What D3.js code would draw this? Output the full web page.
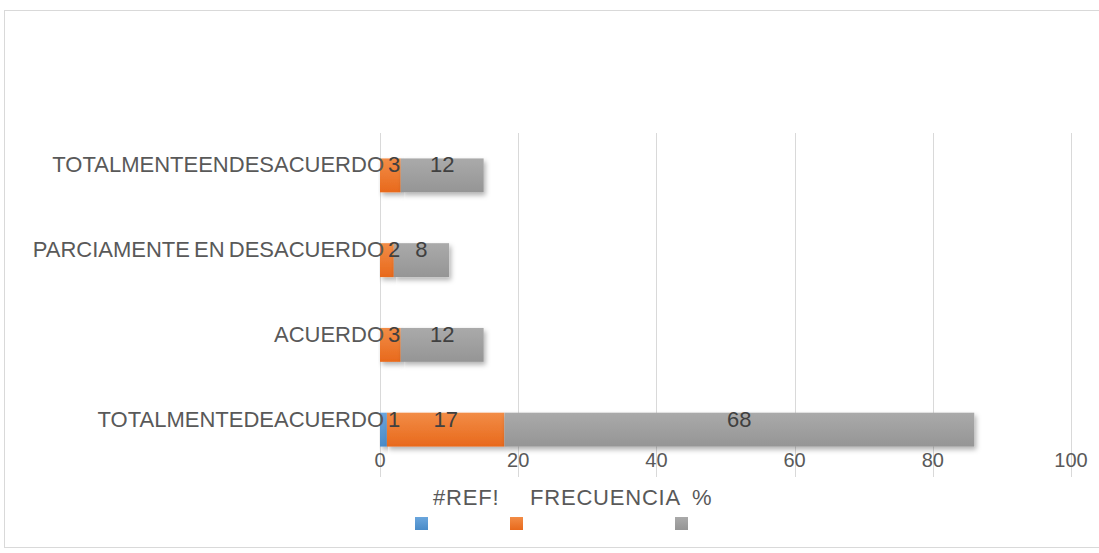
<!DOCTYPE html>
<head>
    <meta charset="utf-8">
    <title>Frecuencia</title>
    <script src="https://d3js.org/d3.v7.min.js"></script>
    <style>
        body { margin: 0; background: #fff; }
        text { font-family: "Liberation Sans", Arial, sans-serif; }
    </style>
</head>
<body>
    <script>
        // bottom to top, as in the picture
        const categories = ["TOTALMENTEDEACUERDO", "ACUERDO", "PARCIAMENTE EN DESACUERDO", "TOTALMENTEENDESACUERDO"]
        const refValues = [1, 0, 0, 0]
        const frecuencia = [17, 3, 2, 3]
        const porcentaje = [68, 12, 8, 12]
        const seriesNames = ["#REF!", "FRECUENCIA", "%"]
        const xTicks = [0, 20, 40, 60, 80, 100]

        const width = 1099
        const height = 553

        const colors = [
            { top: "#6aa6dd", bottom: "#4a8bc8" },
            { top: "#f28c46", bottom: "#e8691c" },
            { top: "#aaaaaa", bottom: "#959595" }
        ]

        const svg = d3.select("body").append("svg")
            .attr("width", width)
            .attr("height", height)

        const defs = svg.append("defs")
        colors.forEach((c, i) => {
            const g = defs.append("linearGradient")
                .attr("id", "grad" + i)
                .attr("x1", 0).attr("y1", 0).attr("x2", 0).attr("y2", 1)
            g.append("stop").attr("offset", "0%").attr("stop-color", c.top)
            g.append("stop").attr("offset", "100%").attr("stop-color", c.bottom)
        })
        const shadow = defs.append("filter").attr("id", "shadow")
            .attr("x", "-5%").attr("y", "-20%").attr("width", "120%").attr("height", "160%")
        shadow.append("feDropShadow")
            .attr("dx", 2).attr("dy", 3).attr("stdDeviation", 2.5)
            .attr("flood-color", "#000").attr("flood-opacity", 0.3)

        // chart frame
        svg.append("rect")
            .attr("x", 4.5).attr("y", 10.5)
            .attr("width", width).attr("height", 537)
            .attr("fill", "#fff")
            .attr("stroke", "#d9d9d9")

        const x = d3.scaleLinear().domain([0, 100]).range([380, 1071])
        const y = d3.scaleBand().domain(categories).range([472, 133]).paddingInner(0.6).paddingOuter(0.3)

        // gridlines
        svg.append("g")
            .selectAll("line")
            .data(xTicks)
            .join("line")
                .attr("x1", (d) => Math.round(x(d)) + 0.5)
                .attr("x2", (d) => Math.round(x(d)) + 0.5)
                .attr("y1", 133)
                .attr("y2", 477)
                .attr("stroke", "#d9d9d9")

        const rows = categories.map((c, i) => ({ cat: c, vals: [refValues[i], frecuencia[i], porcentaje[i]] }))
        const stack = d3.stack().keys([0, 1, 2]).value((d, k) => d.vals[k])(rows)

        const layers = svg.append("g").selectAll("g")
            .data(stack)
            .join("g")
                .attr("fill", (d, i) => `url(#grad${i})`)

        layers.selectAll("rect")
            .data((d) => d)
            .join("rect")
                .attr("x", (d) => x(d[0]))
                .attr("y", (d) => y(d.data.cat))
                .attr("width", (d) => x(d[1]) - x(d[0]))
                .attr("height", y.bandwidth())
                .attr("filter", (d) => d[1] - d[0] > 0 ? "url(#shadow)" : null)

        // axis tick labels
        svg.append("g")
            .selectAll("text")
            .data(xTicks)
            .join("text")
                .attr("x", (d) => x(d))
                .attr("y", 467)
                .attr("text-anchor", "middle")
                .attr("font-size", 20)
                .attr("fill", "#595959")
                .text((d) => d)

        // category labels
        svg.append("g")
            .selectAll("text")
            .data(categories)
            .join("text")
                .attr("x", 384)
                .attr("y", (d) => y(d) + 14)
                .attr("text-anchor", "end")
                .attr("font-size", 22)
                .attr("word-spacing", -2)
                .attr("fill", "#595959")
                .text((d) => d)

        // data labels
        const labels = svg.append("g")
        stack.forEach((layer) => {
            labels.selectAll(null)
                .data(layer.filter((d) => d[1] - d[0] > 0))
                .join("text")
                    .attr("x", (d) => Math.max((x(d[0]) + x(d[1])) / 2, x(d[0]) + 14))
                    .attr("y", (d) => y(d.data.cat) + 14)
                    .attr("text-anchor", "middle")
                    .attr("font-size", 22)
                    .attr("fill", "#404040")
                    .text((d) => d[1] - d[0])
        })

        // legend
        const legendText = [{ name: seriesNames[0], x: 433 }, { name: seriesNames[1], x: 530 }, { name: seriesNames[2], x: 692 }]
        svg.append("g")
            .selectAll("text")
            .data(legendText)
            .join("text")
                .attr("x", (d) => d.x)
                .attr("y", 505)
                .attr("font-size", 22)
                .attr("letter-spacing", 0.8)
                .attr("fill", "#595959")
                .text((d) => d.name)

        const swatchX = [415, 510, 675]
        svg.append("g")
            .selectAll("rect")
            .data(swatchX)
            .join("rect")
                .attr("x", (d) => d)
                .attr("y", 517)
                .attr("width", 13)
                .attr("height", 13)
                .attr("fill", (d, i) => `url(#grad${i})`)
    </script>
</body>
